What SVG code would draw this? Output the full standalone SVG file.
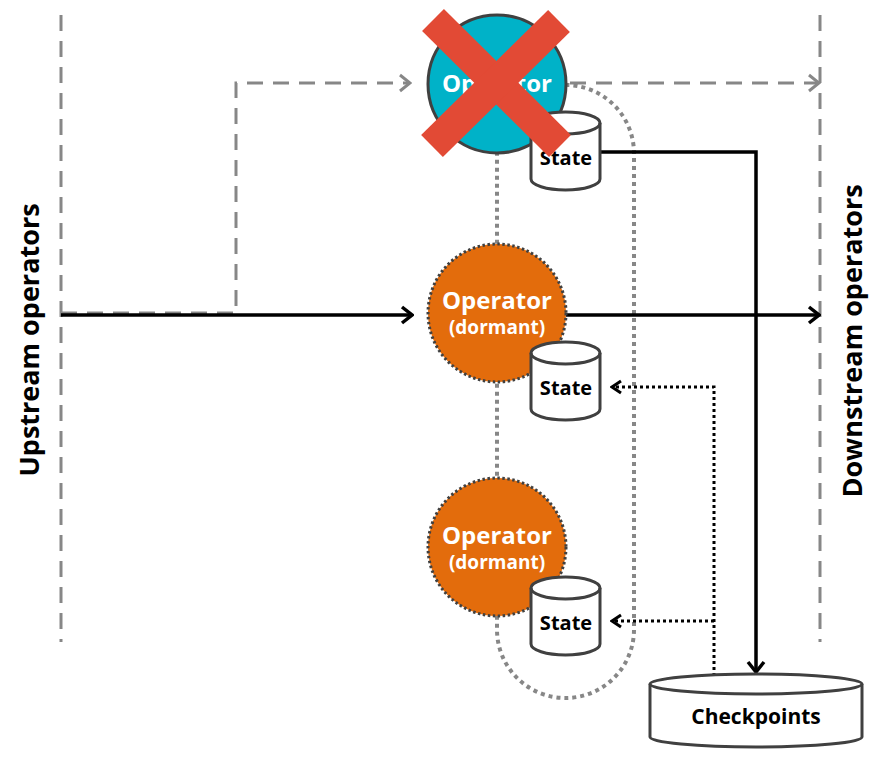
<svg xmlns="http://www.w3.org/2000/svg" width="894" height="776" viewBox="0 0 894 776">
<style>
.gdash{fill:none;stroke:#878787;stroke-width:3;stroke-dasharray:16 10}
.solid{fill:none;stroke:#000;stroke-width:3.5}
.bdot{fill:none;stroke:#000;stroke-width:3;stroke-dasharray:3 3}
.cyl{fill:#fff;stroke:#404040;stroke-width:3}
.cylf{fill:none;stroke:#404040;stroke-width:3}
.lbl{font-family:"Open Sans","Noto Sans",sans-serif;font-weight:bold;text-anchor:middle}
.wt{fill:#fff}
.bk{fill:#000}
</style>
<defs>
<marker id="ab" markerUnits="userSpaceOnUse" viewBox="0 0 14 20" refX="12" refY="10" markerWidth="14" markerHeight="20" orient="auto">
<path d="M2,2 L12,10 L2,18" fill="none" stroke="#000" stroke-width="3.5"/>
</marker>
<marker id="ag" markerUnits="userSpaceOnUse" viewBox="0 0 14 20" refX="12" refY="10" markerWidth="14" markerHeight="20" orient="auto">
<path d="M2,2 L12,10 L2,18" fill="none" stroke="#878787" stroke-width="3"/>
</marker>
<marker id="ad" markerUnits="userSpaceOnUse" viewBox="0 0 14 20" refX="12" refY="10" markerWidth="14" markerHeight="20" orient="auto">
<path d="M3,4 L12,10 L3,16" fill="none" stroke="#000" stroke-width="3"/>
</marker>
<g id="stcyl">
<path class="cyl" d="M0,0 a34.5,11 0 0 1 69,0 v56 a34.5,11 0 0 1 -69,0 z"/>
<path class="cylf" d="M0,0 a34.5,11 0 0 0 69,0"/>
</g>
</defs>

<g id="boundaries">
<line class="gdash" x1="61" y1="15" x2="61" y2="642"/>
<line class="gdash" x1="820" y1="15" x2="820" y2="642"/>
</g>

<g id="labels">
<text class="lbl bk" font-size="27" transform="translate(39,340) rotate(-90)">Upstream operators</text>
<text class="lbl bk" font-size="27" transform="translate(862,341) rotate(-90)">Downstream operators</text>
</g>

<g id="replica-group">
<rect x="497" y="85" width="137" height="613" rx="68.5" ry="68.5" fill="none" stroke="#878787" stroke-width="4" stroke-dasharray="4 4"/>
</g>

<g id="connectors">
<polyline class="gdash" points="61,313 236,313 236,83 410,83" marker-end="url(#ag)"/>
<line class="gdash" x1="570" y1="83" x2="819" y2="83" marker-end="url(#ag)"/>
<line class="solid" x1="61" y1="315" x2="412" y2="315" marker-end="url(#ab)"/>
<line class="solid" x1="566" y1="315" x2="819" y2="315" marker-end="url(#ab)"/>
<polyline class="solid" points="600,152 756,152 756,672" marker-end="url(#ab)"/>
<polyline class="bdot" points="714,676 714,387 612,387" marker-end="url(#ad)"/>
<line class="bdot" x1="714" y1="621" x2="612" y2="621" marker-end="url(#ad)"/>
</g>

<g id="operator-failed">
<circle cx="497" cy="84" r="69" fill="#00B2C8" stroke="#404040" stroke-width="3"/>
<text class="lbl wt" font-size="24" x="497" y="92">Operator</text>
</g>
<g id="state-1">
<use href="#stcyl" x="531" y="123"/>
<text class="lbl bk" font-size="20" x="566" y="165">State</text>
</g>
<g id="failure-mark">
<line x1="433" y1="20" x2="560" y2="146" stroke="#E24A35" stroke-width="31"/>
<line x1="559" y1="21" x2="432" y2="146" stroke="#E24A35" stroke-width="31"/>
</g>

<g id="operator-dormant-1">
<circle cx="497" cy="313" r="69" fill="#E36C0C" stroke="#404040" stroke-width="3" stroke-dasharray="2.5 2.5"/>
<text class="lbl wt" font-size="24" x="497" y="309">Operator</text>
<text class="lbl wt" font-size="19" x="497" y="334">(dormant)</text>
</g>
<g id="state-2">
<use href="#stcyl" x="531" y="353"/>
<text class="lbl bk" font-size="20" x="566" y="395">State</text>
</g>

<g id="operator-dormant-2">
<circle cx="497" cy="547" r="69" fill="#E36C0C" stroke="#404040" stroke-width="3" stroke-dasharray="2.5 2.5"/>
<text class="lbl wt" font-size="24" x="497" y="544">Operator</text>
<text class="lbl wt" font-size="19" x="497" y="569">(dormant)</text>
</g>
<g id="state-3">
<use href="#stcyl" x="531" y="588"/>
<text class="lbl bk" font-size="20" x="566" y="630">State</text>
</g>

<g id="checkpoints">
<path class="cyl" d="M650,684 a106,10 0 0 1 212,0 v53 a106,10 0 0 1 -212,0 z"/>
<path class="cylf" d="M650,684 a106,10 0 0 0 212,0"/>
<text class="lbl bk" font-size="21" x="756" y="724">Checkpoints</text>
</g>
</svg>
